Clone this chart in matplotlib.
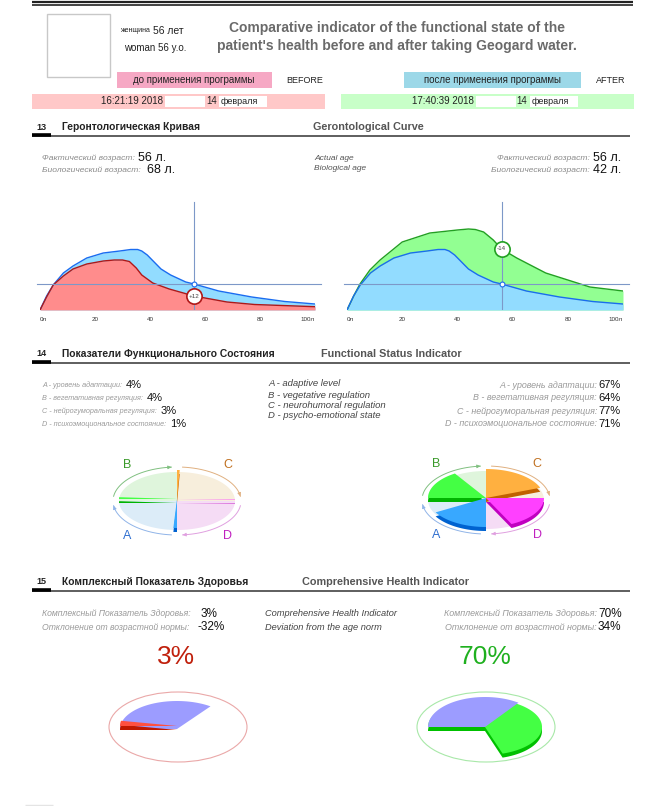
import matplotlib
matplotlib.use("Agg")
import matplotlib.pyplot as plt
from matplotlib.patches import Polygon, Rectangle, Ellipse
import numpy as np

plt.rcParams['font.family'] = ['Liberation Sans', 'DejaVu Sans']
NARROW = ['Liberation Sans Narrow', 'Liberation Sans', 'DejaVu Sans']

# ---- data ----
actual_age = 56
bio_age_before = 68
bio_age_after = 42
time_before = "16:21:19 2018"
time_after = "17:40:39 2018"
day = "14"
month = "февраля"

# gerontological curves (age, height of curve)
ages_norm = [0, 2.4, 4.8, 8.5, 12, 17, 23, 29, 33, 35.5, 37, 39, 41.5, 44, 47.5, 53, 56, 65, 77, 89, 100]
curve_norm = [0, 14, 25, 37, 44, 52, 57, 59, 60.5, 60.5, 59, 55, 48, 41, 35, 28, 26, 19, 13, 8.5, 6]
ages_before = [0, 2.4, 4.8, 8.5, 12, 17, 23, 27, 30, 32.5, 35, 37, 41, 47, 56, 68, 78, 100]
curve_before = [0, 13, 25, 34, 41, 46, 49, 50, 50, 48.5, 42, 35, 27, 21, 14, 8, 5.5, 3.3]
ages_after = [0, 2.4, 4.7, 8.3, 12, 20, 30, 40, 44, 46.5, 49.5, 53, 56, 61.5, 72, 88, 100]
curve_after = [0, 14, 26, 40, 50, 68, 77, 80, 81, 80.5, 78, 70, 61, 52, 37, 23, 19]
tick_ages = [0, 20, 40, 60, 80, 100]
tick_labels = ["0л", "20", "40", "60", "80", "100л"]

fsi_letters = ["A", "B", "C", "D"]
fsi_ru = ["A - уровень адаптации:", "B - вегетативная регуляция:",
          "C - нейрогуморальная регуляция:", "D - психоэмоциональное состояние:"]
fsi_en = ["A - adaptive level", "B - vegetative regulation",
          "C - neurohumoral regulation", "D - psycho-emotional state"]
fsi_before = [4, 4, 3, 1]
fsi_after = [67, 64, 77, 71]

chi_before = 3
dev_before = -32
chi_after = 70
dev_after = 34
chi_norm = 35

# ---- figure in pixel coordinates ----
W, H = 658, 806
fig = plt.figure(figsize=(W / 100, H / 100), dpi=100)
ov = fig.add_axes([0, 0, 1, 1])
ov.set_xlim(0, W)
ov.set_ylim(H, 0)
ov.axis("off")


def txt(x, y, s, **kw):
    kw.setdefault("va", "center")
    return ov.text(x, y, s, **kw)


def hline(x0, x1, y, **kw):
    ov.plot([x0, x1], [y, y], solid_capstyle="butt", **kw)


# ---- top block ----
hline(32, 633, 1.5, color="#222", lw=1.6)
hline(32, 633, 4.5, color="#222", lw=1.2)
ov.add_patch(Rectangle((47, 14), 63, 63, fc="white", ec="#c8c8c8", lw=1))
txt(120, 31, "женщина", fontsize=5, color="#222")
txt(153, 31, "56 лет", fontsize=7.5, color="#222")
txt(124, 48, "woman 56 y.o.", fontsize=7, color="#222")
txt(397, 28, "Comparative indicator of the functional state of the", fontsize=10,
    fontweight="bold", color="#6a6a6a", ha="center")
txt(397, 46, "patient's health before and after taking Geogard water.", fontsize=10,
    fontweight="bold", color="#6a6a6a", ha="center")

ov.add_patch(Rectangle((117, 72), 155, 16, fc="#f6a8c4", ec="none"))
txt(194, 80, "до применения программы", fontsize=7, color="#222", ha="center")
txt(286, 80.5, "BEFORE", fontsize=6.5, color="#222")
ov.add_patch(Rectangle((404, 72), 177, 16, fc="#9cd8e8", ec="none"))
txt(492, 80, "после применения программы", fontsize=7, color="#222", ha="center")
txt(596, 80.5, "AFTER", fontsize=6.5, color="#222")

for x0, x1, col, tstr, bx, dx, mx in [(32, 325, "#ffc8c8", time_before, 165, 206, 219),
                                       (341, 634, "#c8ffc8", time_after, 476, 516, 530)]:
    ov.add_patch(Rectangle((x0, 94), x1 - x0, 15, fc=col, ec="none"))
    txt(bx - 2, 101.5, tstr, fontsize=7, color="#222", ha="right")
    ov.add_patch(Rectangle((bx, 96), 40, 11, fc="white", ec="none"))
    txt(dx, 101.5, day, fontsize=7, color="#222")
    ov.add_patch(Rectangle((mx, 96), 48, 11, fc="white", ec="none"))
    txt(mx + 2, 101.5, month, fontsize=6.5, color="#222")


def header(y, num, ru, en, en_x):
    txt(36, y, num, fontsize=6.5, fontweight="bold", color="#222")
    txt(62, y, ru, fontsize=7.4, fontweight="bold", color="#222")
    txt(en_x, y, en, fontsize=7.8, fontweight="bold", color="#555")
    hline(32, 630, y + 9, color="#333", lw=1.1)
    hline(32, 51, y + 8.3, color="#000", lw=2.6)


# ---- section 13 ----
header(127, "13", "Геронтологическая Кривая", "Gerontological Curve", 313)
lab_kw = dict(fontsize=6.1, style="italic", color="#8a8a8a")
txt(42, 158, "Фактический возраст:", **lab_kw)
txt(138, 158, f"{actual_age} л.", fontsize=9, color="#111")
txt(42, 170, "Биологический возраст:", **lab_kw)
txt(147, 170, f"{bio_age_before} л.", fontsize=9, color="#111")
txt(314, 158, "Actual age", fontsize=6, style="italic", color="#555")
txt(314, 168, "Biological age", fontsize=6, style="italic", color="#555")
txt(590, 158, "Фактический возраст:", ha="right", **lab_kw)
txt(593, 158, f"{actual_age} л.", fontsize=9, color="#111")
txt(590, 170, "Биологический возраст:", ha="right", **lab_kw)
txt(593, 170, f"{bio_age_after} л.", fontsize=9, color="#111")


def gero(x0, x1, back, front, bio_ages, bio_curve, bio_edge, shift_text):
    ax = fig.add_axes([x0 / W, 1 - 310 / H, (x1 - x0) / W, 112 / H])
    ax.set_xlim(0, 100)
    ax.set_ylim(0, 112)
    for a, c, fc, ec in (back, front):
        ax.fill_between(a, c, color=fc, lw=0)
        ax.plot(a, c, color=ec, lw=1)
    norm_y = curve_norm[ages_norm.index(actual_age)]
    bio_y = bio_curve[bio_ages.index(actual_age)]
    ax.plot([actual_age, actual_age], [0, 108], color="#7d98c8", lw=0.8, zorder=3)
    ax.plot([-1, 102], [norm_y, norm_y], color="#7d98c8", lw=0.8, clip_on=False, zorder=3)
    ax.plot(actual_age, norm_y, "o", ms=3.5, mfc="white", mec="#1a6cf0", mew=0.8, zorder=4)
    ax.plot(actual_age, bio_y, "o", ms=11, mfc="white", mec=bio_edge, mew=1.2, zorder=5)
    ax.text(actual_age, bio_y, shift_text, fontsize=4.5, color="#444", ha="center",
            va="center", zorder=6)
    ax.set_xticks(tick_ages, tick_labels, fontsize=4.5, color="#333")
    labs = ax.get_xticklabels()
    labs[0].set_ha("left")
    labs[-1].set_ha("right")
    ax.tick_params(length=0, pad=5)
    ax.set_yticks([])
    for s in ax.spines.values():
        s.set_visible(False)
    ax.patch.set_alpha(0)


gero(40, 315,
     (ages_norm, curve_norm, "#92dcff", "#1a6cf0"),
     (ages_before, curve_before, "#ff8c8c", "#b01818"),
     ages_before, curve_before, "#b01818", f"+{bio_age_before - actual_age}")
gero(347, 623,
     (ages_after, curve_after, "#92ff92", "#22a022"),
     (ages_norm, curve_norm, "#92dcff", "#1a6cf0"),
     ages_after, curve_after, "#22a022", f"{bio_age_after - actual_age}")

# ---- section 14 ----
header(354, "14", "Показатели Функционального Состояния", "Functional Status Indicator", 321)
ys14 = [385, 398, 411, 424]
renderer = fig.canvas.get_renderer()
for i in range(4):
    t = txt(42, ys14[i], fsi_ru[i], fontsize=5.2, style="italic", color="#9a9a9a",
            family=NARROW)
    bb = t.get_window_extent(renderer=renderer)
    txt(42 + bb.width + 4, ys14[i], f"{fsi_before[i]}%", fontsize=8, color="#111",
        family=NARROW)
    txt(597, ys14[i], fsi_ru[i], ha="right", fontsize=6.4, style="italic", color="#9a9a9a",
        family=NARROW)
    txt(598, ys14[i], f"{fsi_after[i]}%", fontsize=8, color="#111", family=NARROW)
for i, y in enumerate([383, 395, 406, 416]):
    txt(268, y, fsi_en[i], fontsize=6.8, style="italic", color="#444")


def wedge_pts(cx, cy, rx, ry, a0, a1):
    t = np.radians(np.linspace(a0, a1, 80))
    xs = np.concatenate([[cx], cx + rx * np.cos(t), [cx]])
    ys = np.concatenate([[cy], cy - ry * np.sin(t), [cy]])
    return np.column_stack([xs, ys])


def wedge(cx, cy, rx, ry, a0, a1, top, side=None, depth=0, z=2):
    if side is not None:
        ov.add_patch(Polygon(wedge_pts(cx, cy + depth, rx, ry, a0, a1), closed=True,
                             fc=side, ec="none", zorder=z))
    ov.add_patch(Polygon(wedge_pts(cx, cy, rx, ry, a0, a1), closed=True,
                         fc=top, ec="none", zorder=z + 0.1))


quad_start = {"A": -90, "B": 180, "C": 90, "D": 0}
quad_pale = {"A": "#dcecf8", "B": "#dff5dc", "C": "#f7eedc", "D": "#f5dcf5"}
quad_top = {"A": "#38a8ff", "B": "#44ff44", "C": "#ffb040", "D": "#ff40ff"}
quad_side = {"A": "#0062d0", "B": "#00b400", "C": "#c06000", "D": "#c000c0"}
quad_label = {"A": "#2f6fd0", "B": "#3a9a2a", "C": "#c07020", "D": "#c020c0"}
quad_arc = {"A": "#90b4e8", "B": "#80c080", "C": "#e0b080", "D": "#e0a0e0"}
arc_span = {"B": (172, 95), "C": (85, 8), "D": (-8, -85), "A": (-95, -172)}
label_pos = {"B": (-50, -36), "C": (51, -36), "A": (-50, 35), "D": (51, 35)}


def fsi_pie(cx, cy, vals):
    rx, ry = 58, 29
    for k in "ABCD":
        s = quad_start[k]
        ov.add_patch(Polygon(wedge_pts(cx, cy, rx, ry, s - 90, s), closed=True,
                             fc=quad_pale[k], ec="none", zorder=1))
    for k in "BCAD":
        v = vals[fsi_letters.index(k)]
        s = quad_start[k]
        wedge(cx, cy - 2, rx, ry, s - v * 0.9, s, quad_top[k], quad_side[k], 4, z=2)
    for k in "ABCD":
        a0, a1 = arc_span[k]
        t = np.radians(np.linspace(a0, a1, 60))
        xs = cx + 64 * np.cos(t)
        ys = cy - 34 * np.sin(t)
        ov.plot(xs, ys, color=quad_arc[k], lw=0.7, zorder=1)
        ov.annotate("", xy=(xs[-1], ys[-1]), xytext=(xs[-4], ys[-4]),
                    arrowprops=dict(arrowstyle="-|>", color=quad_arc[k], lw=0.6,
                                    mutation_scale=5))
        dx, dy = label_pos[k]
        txt(cx + dx, cy + dy, k, fontsize=9, color=quad_label[k], ha="center")


fsi_pie(177, 501, fsi_before)
fsi_pie(486, 500, fsi_after)

# ---- section 15 ----
header(582, "15", "Комплексный Показатель Здоровья", "Comprehensive Health Indicator", 302)
mid_kw = dict(style="italic", color="#9a9a9a")
txt(42, 614, "Комплексный Показатель Здоровья:", fontsize=6.2, **mid_kw)
txt(201, 614, f"{chi_before}%", fontsize=8.5, color="#111", family=NARROW)
txt(42, 627, "Отклонение от возрастной нормы:", fontsize=6.2, **mid_kw)
txt(197, 627, f"{dev_before}%", fontsize=8.5, color="#111", family=NARROW)
txt(265, 614, "Comprehensive Health Indicator", fontsize=6.7, style="italic", color="#444")
txt(265, 627, "Deviation from the age norm", fontsize=6.7, style="italic", color="#444")
txt(597, 614, "Комплексный Показатель Здоровья:", ha="right", fontsize=6.4, **mid_kw)
txt(598, 614, f"{chi_after}%", fontsize=8.5, color="#111", family=NARROW)
txt(597, 627, "Отклонение от возрастной нормы:", ha="right", fontsize=6.4, **mid_kw)
txt(598, 627, f"{dev_after}%", fontsize=8.5, color="#111", family=NARROW)
txt(176, 657, f"{chi_before}%", fontsize=19, color="#c0200c", ha="center", family=NARROW)
txt(485, 657, f"{chi_after}%", fontsize=19, color="#1fb01f", ha="center", family=NARROW)


def chi_pie(cx, cy, val, top, side, ring):
    ov.add_patch(Ellipse((cx + 1, cy), 138, 70, fill=False, ec=ring, lw=0.8))
    rx, ry = 57, 28
    norm_a1 = 180 - chi_norm * 3.6
    val_a1 = 180 - val * 3.6
    if val < chi_norm:
        wedge(cx, cy + 2, rx, ry, norm_a1, 180, "#9c9cff", z=2)
        wedge(cx, cy - 1, rx, ry, val_a1, 180, top, side, 4, z=3)
    else:
        wedge(cx, cy, rx, ry, val_a1, 180, top, side, 4, z=2)
        wedge(cx, cy, rx, ry + 2, norm_a1, 180, "#9c9cff", z=3)


chi_pie(177, 727, chi_before, "#ff5040", "#c01800", "#eaa8a8")
chi_pie(485, 727, chi_after, "#44ff44", "#00c000", "#a8e8a8")

hline(25, 53, 805, color="#e4e4e4", lw=1)

fig.savefig("out.png", dpi=100)
